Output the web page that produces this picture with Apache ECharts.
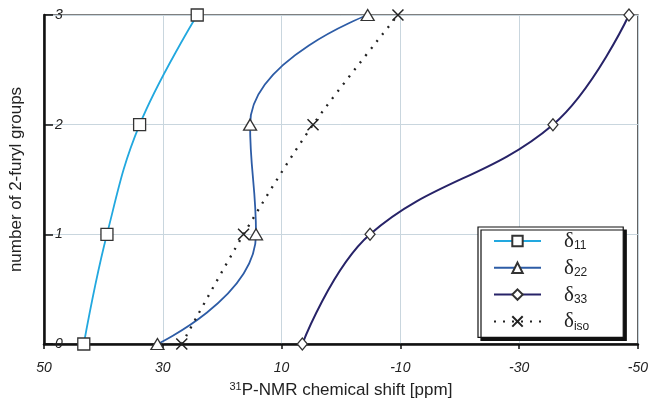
<!DOCTYPE html>
<html><head><meta charset="utf-8">
<script src="https://cdn.jsdelivr.net/npm/echarts@6/dist/echarts.min.js"></script>
<style>html,body{margin:0;padding:0;background:#fff}#c{width:651px;height:404px}</style>
</head><body><div id="c"></div>
<script>
const groups = [0, 1, 2, 3];
const d11 = [43.3, 39.4, 33.9, 24.2];
const d22 = [30.9, 14.3, 15.3, -4.5];
const d33 = [6.5, -4.9, -35.7, -48.5];
const dIso = [26.8, 16.4, 4.7, -9.6];
const xTicks = [50, 30, 10, -10, -30, -50];
const seriesNames = ['δ11', 'δ22', 'δ33', 'δiso'];
const subs = {'δ11': '11', 'δ22': '22', 'δ33': '33', 'δiso': 'iso'};

function pts(arr) { return arr.map((v, i) => [v, groups[i]]); }

const chart = echarts.init(document.getElementById('c'), null, {renderer: 'canvas'});
const markerStyle = {color: '#fff', borderColor: '#333', borderWidth: 1.3};
chart.setOption({
  animation: false,
  grid: {left: 43, right: 13, top: 15, bottom: 55, show: true, borderColor: '#555', borderWidth: 1.6, backgroundColor: 'transparent'},
  xAxis: {
    type: 'value', inverse: true, min: -50, max: 50, interval: 10,
    name: '{sup|31}P-NMR chemical shift [ppm]', nameLocation: 'middle', nameGap: 37,
    nameTextStyle: {fontFamily: 'Liberation Sans', fontSize: 17, color: '#222',
      rich: {sup: {fontFamily: 'Liberation Sans', fontSize: 11, color: '#222', padding: [0, 0, 8, 0]}}},
    axisLine: {show: true, onZero: false, lineStyle: {color: '#111', width: 2.5}},
    axisTick: {show: true, length: 5, customValues: xTicks, lineStyle: {color: '#111', width: 1.5}},
    axisLabel: {customValues: xTicks, fontFamily: 'Liberation Sans', fontStyle: 'italic', fontSize: 14, color: '#222', margin: 17},
    splitLine: {show: true, lineStyle: {color: '#c9d6de', width: 1}}
  },
  yAxis: {
    type: 'value', min: 0, max: 3, interval: 1,
    name: 'number of 2-furyl groups', nameLocation: 'middle', nameGap: 19,
    nameTextStyle: {fontFamily: 'Liberation Sans', fontSize: 17, color: '#222'},
    axisLine: {show: true, onZero: false, lineStyle: {color: '#111', width: 2.5}},
    axisTick: {show: true, inside: true, length: 9, lineStyle: {color: '#111', width: 1.5}},
    axisLabel: {inside: true, margin: 11, fontFamily: 'Liberation Sans', fontStyle: 'italic', fontSize: 14, color: '#222'},
    splitLine: {show: true, lineStyle: {color: '#c9d6de', width: 1}}
  },
  legend: {
    orient: 'vertical', left: 478, top: 227,
    data: seriesNames,
    backgroundColor: '#fff', borderColor: '#111', borderWidth: 1.2,
    shadowColor: '#111', shadowOffsetX: 3, shadowOffsetY: 3, shadowBlur: 0,
    padding: [4, 34, 5, 15],
    itemWidth: 47, itemHeight: 13, itemGap: 5.8,
    formatter: n => '{d|δ}{s|' + subs[n] + '}',
    textStyle: {
      rich: {
        d: {fontFamily: 'Liberation Serif', fontSize: 21, color: '#222', padding: [0, 0, 0, 18], lineHeight: 22, verticalAlign: 'bottom'},
        s: {fontFamily: 'Liberation Sans', fontSize: 12, color: '#222', lineHeight: 22, verticalAlign: 'bottom'}
      }
    }
  },
  series: [
    {name: 'δ11', type: 'line', data: pts(d11), smooth: 0.4, symbol: 'rect', symbolSize: 12,
      lineStyle: {color: '#22a8df', width: 1.8}, itemStyle: markerStyle, z: 3},
    {name: 'δ22', type: 'line', data: pts(d22), smooth: 0.5, symbol: 'triangle', symbolSize: [13, 11],
      lineStyle: {color: '#2d5ca6', width: 1.8}, itemStyle: markerStyle, z: 3},
    {name: 'δ33', type: 'line', data: pts(d33), smooth: 0.4, symbol: 'diamond', symbolSize: [10, 12],
      lineStyle: {color: '#272368', width: 2}, itemStyle: markerStyle, z: 3},
    {name: 'δiso', type: 'line', data: pts(dIso), smooth: 0.3, symbol: 'path://M0 0L10 10M10 0L0 10', symbolSize: 11,
      lineStyle: {color: '#222', width: 2.3, type: [2, 7]}, itemStyle: {color: 'rgba(0,0,0,0)', borderColor: '#222', borderWidth: 1.5}, z: 3}
  ]
});
</script></body></html>
